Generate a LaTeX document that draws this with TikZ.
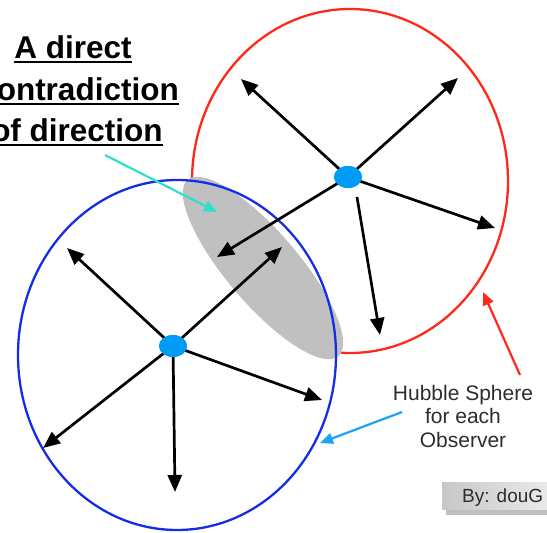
\documentclass[tikz,border=0pt]{standalone}
\usepackage{fontspec}
\setmainfont{Liberation Sans}
\usetikzlibrary{arrows.meta,shapes.geometric}
\definecolor{redc}{RGB}{255,40,25}
\definecolor{bluec}{RGB}{20,45,230}
\definecolor{dotc}{RGB}{0,155,245}
\definecolor{cyanc}{RGB}{45,225,200}
\definecolor{lbluec}{RGB}{25,165,245}
\definecolor{txtc}{RGB}{45,45,45}
\definecolor{grayc}{RGB}{192,192,192}
\begin{document}
\begin{tikzpicture}[x=1pt,y=-1pt,
  vec/.style={line width=2.7pt, -{Triangle[length=17pt,width=14pt]}},
  pointer/.style={line width=2.2pt, -{Triangle[length=13pt,width=11pt]}},
  obs/.style={ellipse, fill=dotc, minimum width=28pt, minimum height=22pt, inner sep=0pt},
  titletext/.style={inner sep=0pt, anchor=base, font=\fontsize{31.5}{36}\selectfont\bfseries},
  ul/.style={line width=2.4pt}]
\useasboundingbox (0,0) rectangle (547,533);
% circles
\draw[redc, line width=2.3pt] (350,181) ellipse[x radius=158pt, y radius=172pt];
\fill[white] (177,355) ellipse[x radius=159pt, y radius=175pt];
\fill[grayc, shift={(263,268)}, rotate=-49.5] (0,0) ellipse[x radius=116pt, y radius=36pt];
\draw[bluec, line width=2.3pt] (177,355) ellipse[x radius=159pt, y radius=175pt];
% observers
\node[obs] (obsR) at (348,177) {};
\node[obs] (obsB) at (173,346) {};
% red observer vectors
\coordinate (rUL) at (241,79);
\coordinate (rUR) at (458,78);
\coordinate (rR) at (495,228);
\coordinate (rDs) at (357,197);
\coordinate (rD) at (380,335);
\coordinate (rDL) at (217,257);
\draw[vec] (obsR.center) -- (rUL);
\draw[vec] (obsR.center) -- (rUR);
\draw[vec] (obsR.center) -- (rR);
\draw[vec] (rDs) -- (rD);
\draw[vec] (obsR.center) -- (rDL);
% blue observer vectors
\coordinate (bUL) at (67,248);
\coordinate (bUR) at (282,247);
\coordinate (bR) at (322,400);
\coordinate (bDL) at (43,448);
\coordinate (bD) at (175,492);
\draw[vec] (obsB.center) -- (bUL);
\draw[vec] (obsB.center) -- (bUR);
\draw[vec] (obsB.center) -- (bR);
\draw[vec] (obsB.center) -- (bDL);
\draw[vec] (obsB.center) -- (bD);
\node[obs] at (obsR) {};
\node[obs] at (obsB) {};
% title text
\node[titletext] (t1) at (73,58) {A direct};
\node[titletext] (t2) at (79,100) {contradiction};
\node[titletext] (t3) at (77,141) {of direction};
\draw[ul] ([yshift=-4pt]t1.base west) -- ([yshift=-4pt]t1.base east);
\draw[ul] ([yshift=-4pt]t2.base west) -- ([yshift=-4pt]t2.base east);
\draw[ul] ([yshift=-4pt]t3.base west) -- ([yshift=-4pt]t3.base east);
\coordinate (cyS) at (105,155);
\coordinate (cyE) at (217,212);
\draw[pointer, cyanc] (cyS) -- (cyE);
% Hubble label
\node[txtc, align=center, font=\fontsize{21}{23.5}\selectfont, inner sep=0pt] (hs) at (463,416) {Hubble Sphere\\for each\\Observer};
\coordinate (redS) at (520,375);
\coordinate (redE) at (483,292);
\coordinate (lbS) at (402,412);
\coordinate (lbE) at (320,443);
\draw[pointer, redc] (redS) -- (redE);
\draw[pointer, lbluec] (lbS) -- (lbE);
% credit box
\fill[black!25] (446,488) rectangle (552,515);
\shade[left color=black!22, right color=black!8] (442,482) rectangle (550,509);
\node[txtc, font=\fontsize{19}{22}\selectfont, anchor=base west, inner sep=0pt] (by) at (462,502) {By: douG};
\end{tikzpicture}
\end{document}
